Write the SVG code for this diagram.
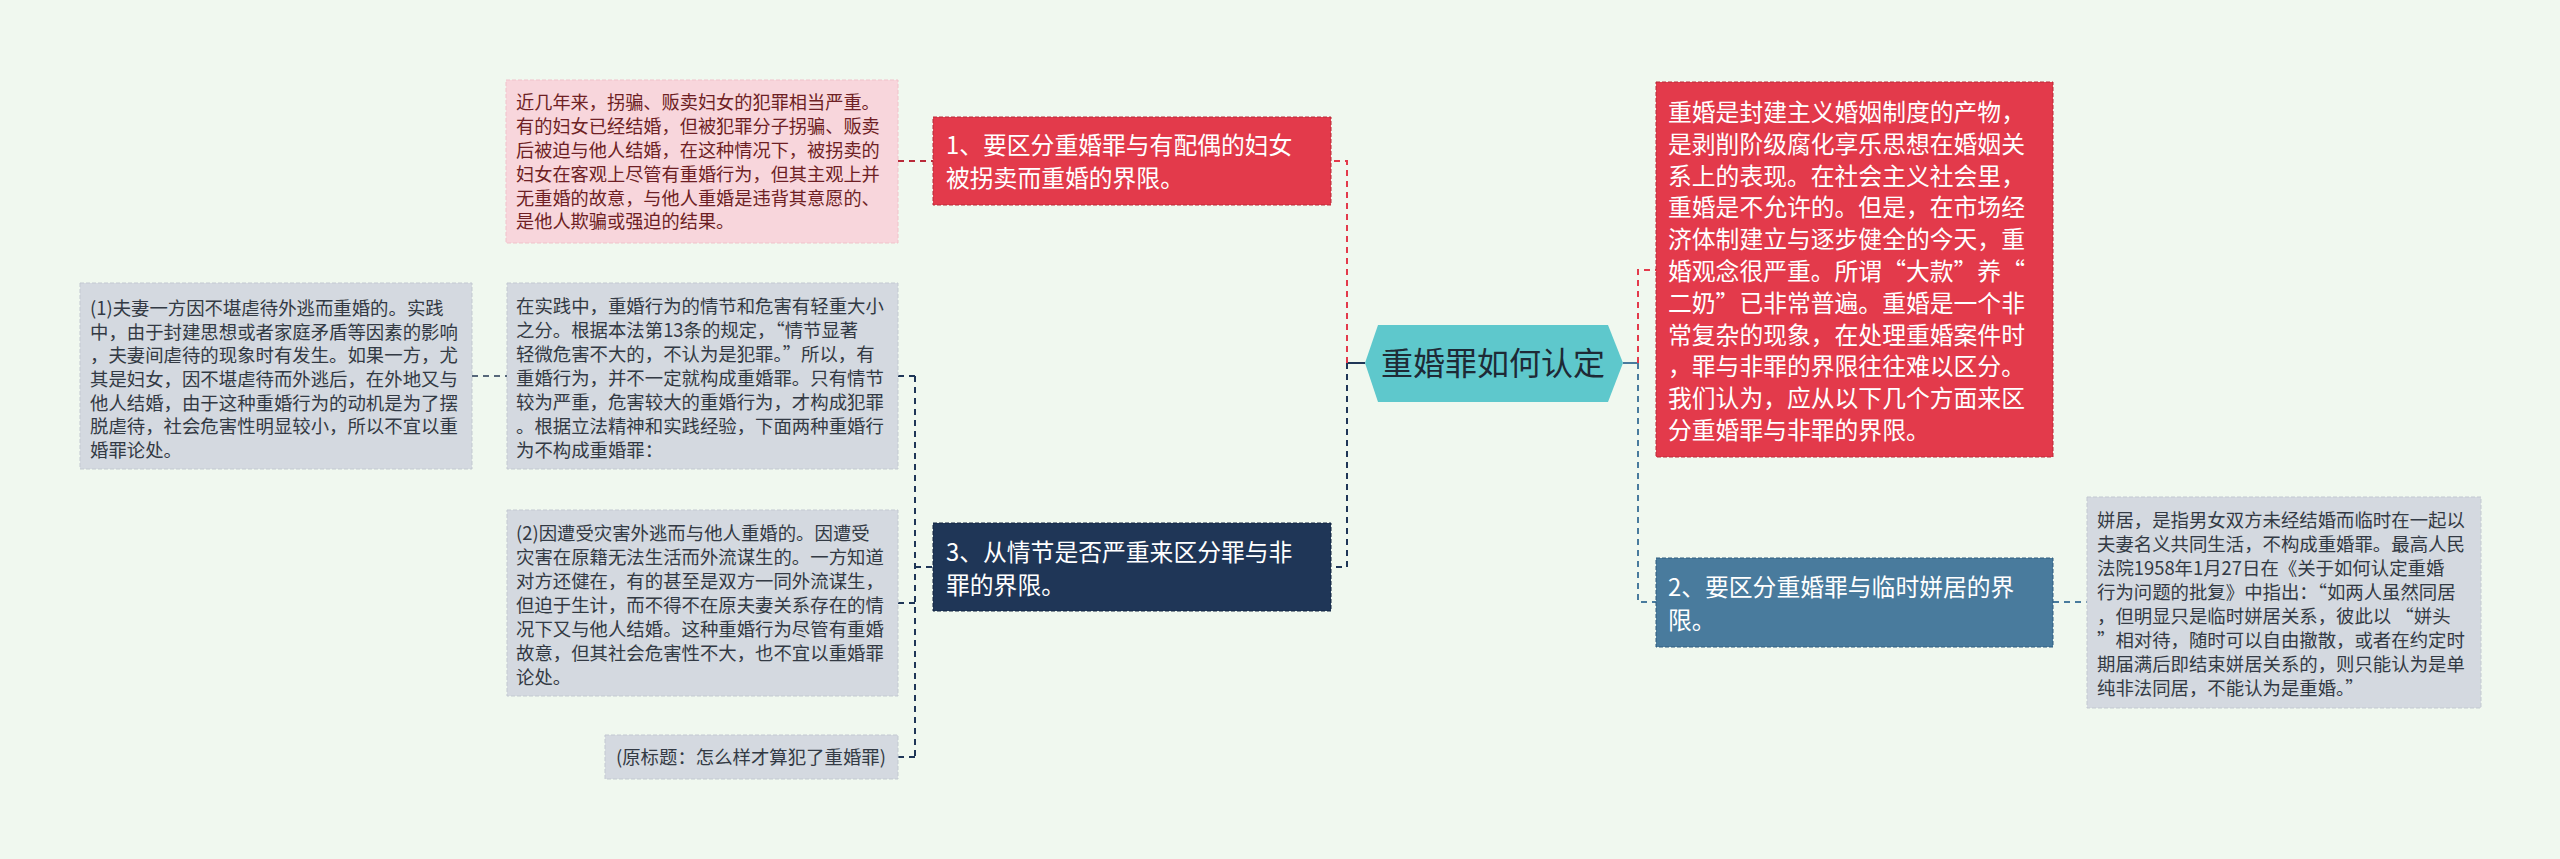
<svg xmlns="http://www.w3.org/2000/svg" width="2560" height="859" viewBox="0 0 2560 859">
<style>
text{font-family:"Noto Sans CJK SC","Microsoft YaHei",sans-serif;}
.sm{font-size:18.4px;fill:#333a44;}
.pk{font-size:18.2px;fill:#6e1f24;}
.lg{font-size:23.8px;fill:#ffffff;}
.ctr{font-size:32px;fill:#1e2a36;}
.gray{fill:#d4d9e0;stroke:#c3c9d1;stroke-width:1;stroke-dasharray:4 2;}
.pink{fill:#f8d6dc;stroke:#f0c2ca;stroke-width:1;stroke-dasharray:4 2;}
.red{fill:#e33a4b;stroke:#b92a39;stroke-width:1;stroke-dasharray:4 2;}
.navy{fill:#1f3657;stroke:#122440;stroke-width:1;stroke-dasharray:4 2;}
.steel{fill:#497b9d;stroke:#2f5d7e;stroke-width:1;stroke-dasharray:4 2;}
.c{fill:none;stroke-width:2;stroke-dasharray:6 5;}
</style>
<rect width="2560" height="859" fill="#f0f8ef"/>
<g id="connectors">
<line x1="1347" y1="363" x2="1365" y2="363" stroke="#1f3657" stroke-width="2"/>
<line x1="1623" y1="363" x2="1638" y2="363" stroke="#497b9d" stroke-width="2"/>
<path class="c" stroke="#e33a4b" d="M1347 363 V161 H1331"/>
<path class="c" stroke="#1f3657" d="M1347 363 V567 H1331"/>
<path class="c" stroke="#e33a4b" d="M1638 363 V270 H1656"/>
<path class="c" stroke="#497b9d" d="M1638 363 V602 H1656"/>
<path class="c" stroke="#b92a39" d="M898 161 H933"/>
<path class="c" stroke="#1f3657" d="M915 376 V757"/>
<path class="c" stroke="#1f3657" d="M898 376 H915"/>
<path class="c" stroke="#1f3657" d="M898 603 H915"/>
<path class="c" stroke="#1f3657" d="M898 757 H915"/>
<path class="c" stroke="#1f3657" d="M915 567 H933"/>
<path class="c" stroke="#56677a" d="M472 376 H507"/>
<path class="c" stroke="#497b9d" d="M2053 602 H2087"/>
</g>
<g id="center">
<polygon points="1365,363 1378,325 1608,325 1623,363 1608,402 1378,402" fill="#5ec8cc"/>
<text class="ctr" x="1493" y="375" text-anchor="middle">重婚罪如何认定</text>
</g>
<g id="n1">
<rect class="red" x="933" y="117" width="398" height="88"/>
<text class="lg"><tspan x="946" y="154">1、要区分重婚罪与有配偶的妇女</tspan><tspan x="946" y="187">被拐卖而重婚的界限。</tspan></text>
</g>
<g id="n1a">
<rect class="pink" x="506" y="80" width="392" height="163"/>
<text class="pk"><tspan x="516" y="109">近几年来，拐骗、贩卖妇女的犯罪相当严重。</tspan><tspan x="516" y="133">有的妇女已经结婚，但被犯罪分子拐骗、贩卖</tspan><tspan x="516" y="157">后被迫与他人结婚，在这种情况下，被拐卖的</tspan><tspan x="516" y="181">妇女在客观上尽管有重婚行为，但其主观上并</tspan><tspan x="516" y="205">无重婚的故意，与他人重婚是违背其意愿的、</tspan><tspan x="516" y="228">是他人欺骗或强迫的结果。</tspan></text>
</g>
<g id="intro">
<rect class="red" x="1656" y="82" width="397" height="375"/>
<text class="lg"><tspan x="1668" y="121">重婚是封建主义婚姻制度的产物，</tspan><tspan x="1668" y="153">是剥削阶级腐化享乐思想在婚姻关</tspan><tspan x="1668" y="185">系上的表现。在社会主义社会里，</tspan><tspan x="1668" y="216">重婚是不允许的。但是，在市场经</tspan><tspan x="1668" y="248">济体制建立与逐步健全的今天，重</tspan><tspan x="1668" y="280">婚观念很严重。所谓“大款”养“</tspan><tspan x="1668" y="312">二奶”已非常普遍。重婚是一个非</tspan><tspan x="1668" y="344">常复杂的现象，在处理重婚案件时</tspan><tspan x="1668" y="375">，罪与非罪的界限往往难以区分。</tspan><tspan x="1668" y="407">我们认为，应从以下几个方面来区</tspan><tspan x="1668" y="439">分重婚罪与非罪的界限。</tspan></text>
</g>
<g id="n2">
<rect class="steel" x="1656" y="558" width="397" height="89"/>
<text class="lg"><tspan x="1668" y="596">2、要区分重婚罪与临时姘居的界</tspan><tspan x="1668" y="629">限。</tspan></text>
</g>
<g id="n2a">
<rect class="gray" x="2087" y="497" width="394" height="211"/>
<text class="sm"><tspan x="2097" y="527">姘居，是指男女双方未经结婚而临时在一起以</tspan><tspan x="2097" y="551">夫妻名义共同生活，不构成重婚罪。最高人民</tspan><tspan x="2097" y="575">法院1958年1月27日在《关于如何认定重婚</tspan><tspan x="2097" y="599">行为问题的批复》中指出：“如两人虽然同居</tspan><tspan x="2097" y="623">，但明显只是临时姘居关系，彼此以 “姘头</tspan><tspan x="2097" y="647">”相对待，随时可以自由撤散，或者在约定时</tspan><tspan x="2097" y="671">期届满后即结束姘居关系的，则只能认为是单</tspan><tspan x="2097" y="695">纯非法同居，不能认为是重婚。”</tspan></text>
</g>
<g id="n3">
<rect class="navy" x="933" y="523" width="398" height="88"/>
<text class="lg"><tspan x="946" y="561">3、从情节是否严重来区分罪与非</tspan><tspan x="946" y="594">罪的界限。</tspan></text>
</g>
<g id="n3a">
<rect class="gray" x="507" y="283" width="391" height="186"/>
<text class="sm"><tspan x="516" y="313">在实践中，重婚行为的情节和危害有轻重大小</tspan><tspan x="516" y="337">之分。根据本法第13条的规定，“情节显著</tspan><tspan x="516" y="361">轻微危害不大的，不认为是犯罪。”所以，有</tspan><tspan x="516" y="385">重婚行为，并不一定就构成重婚罪。只有情节</tspan><tspan x="516" y="409">较为严重，危害较大的重婚行为，才构成犯罪</tspan><tspan x="516" y="433">。根据立法精神和实践经验，下面两种重婚行</tspan><tspan x="516" y="457">为不构成重婚罪：</tspan></text>
</g>
<g id="n3a1">
<rect class="gray" x="80" y="283" width="392" height="186"/>
<text class="sm"><tspan x="90" y="315">(1)夫妻一方因不堪虐待外逃而重婚的。实践</tspan><tspan x="90" y="339">中，由于封建思想或者家庭矛盾等因素的影响</tspan><tspan x="90" y="362">，夫妻间虐待的现象时有发生。如果一方，尤</tspan><tspan x="90" y="386">其是妇女，因不堪虐待而外逃后，在外地又与</tspan><tspan x="90" y="410">他人结婚，由于这种重婚行为的动机是为了摆</tspan><tspan x="90" y="433">脱虐待，社会危害性明显较小，所以不宜以重</tspan><tspan x="90" y="457">婚罪论处。</tspan></text>
</g>
<g id="n3b">
<rect class="gray" x="507" y="510" width="391" height="186"/>
<text class="sm"><tspan x="516" y="540">(2)因遭受灾害外逃而与他人重婚的。因遭受</tspan><tspan x="516" y="564">灾害在原籍无法生活而外流谋生的。一方知道</tspan><tspan x="516" y="588">对方还健在，有的甚至是双方一同外流谋生，</tspan><tspan x="516" y="612">但迫于生计，而不得不在原夫妻关系存在的情</tspan><tspan x="516" y="636">况下又与他人结婚。这种重婚行为尽管有重婚</tspan><tspan x="516" y="660">故意，但其社会危害性不大，也不宜以重婚罪</tspan><tspan x="516" y="684">论处。</tspan></text>
</g>
<g id="n3c">
<rect class="gray" x="605" y="735" width="293" height="44"/>
<text class="sm" x="616" y="764">(原标题：怎么样才算犯了重婚罪)</text>
</g>
</svg>
